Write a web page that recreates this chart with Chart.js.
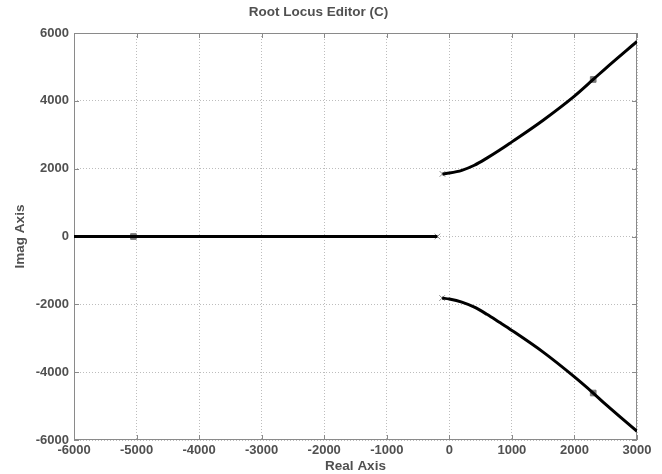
<!DOCTYPE html>
<html>
<head>
<meta charset="utf-8">
<script src="https://cdn.jsdelivr.net/npm/chart.js@4.4.1/dist/chart.umd.min.js"></script>
<style>
  html, body { margin: 0; padding: 0; background: #fff; }
  #wrap { width: 662px; height: 474px; }
</style>
</head>
<body>
<div id="wrap"><canvas id="locus"></canvas></div>
<script>
// axis ticks
const xTicks = [-6000, -5000, -4000, -3000, -2000, -1000, 0, 1000, 2000, 3000];
const yTicks = [-6000, -4000, -2000, 0, 2000, 4000, 6000];

// real-axis branch
const realX = [-6000, -190];
const realY = [0, 0];

// complex branches
const upperX = [-110, 0, 200, 400, 600, 800, 1000, 1500, 2000, 2300, 2500, 3000];
const upperY = [1845, 1870, 1950, 2100, 2310, 2540, 2790, 3430, 4140, 4630, 4960, 5750];
const lowerX = [-115, 0, 200, 400, 600, 800, 1000, 1500, 2000, 2300, 2500, 3000];
const lowerY = [-1815, -1845, -1935, -2085, -2295, -2530, -2770, -3410, -4140, -4615, -4950, -5745];

// open-loop poles (x) and closed-loop poles (squares)
const poleX = [-190, -110, -115];
const poleY = [0, 1845, -1815];
const clX = [-5050, 2300, 2300];
const clY = [0, 4630, -4615];

const pts = (xs, ys) => xs.map((x, i) => ({ x: x, y: ys[i] }));

const textColor = '#505050';
const fontFamily = "Arial, 'Liberation Sans', sans-serif";
const tickFont = { family: fontFamily, size: 13, weight: 'bold' };
const labelFont = { family: fontFamily, size: 13.5, weight: 'bold' };

// box round the plot with ticks pointing inward
const frame = {
    id: 'frame',
    beforeDatasetsDraw(chart) {
        const { ctx, chartArea: a, scales: { x, y } } = chart;
        ctx.save();
        ctx.strokeStyle = '#8a8a8a';
        ctx.lineWidth = 1;
        ctx.strokeRect(a.left + 0.5, a.top + 0.5, a.right - a.left - 1, a.bottom - a.top - 1);
        ctx.beginPath();
        xTicks.forEach(v => {
            const px = Math.round(x.getPixelForValue(v)) + 0.5;
            ctx.moveTo(px, a.bottom); ctx.lineTo(px, a.bottom - 5);
            ctx.moveTo(px, a.top); ctx.lineTo(px, a.top + 5);
        });
        yTicks.forEach(v => {
            const py = Math.round(y.getPixelForValue(v)) + 0.5;
            ctx.moveTo(a.left, py); ctx.lineTo(a.left + 5, py);
            ctx.moveTo(a.right, py); ctx.lineTo(a.right - 5, py);
        });
        ctx.stroke();
        ctx.restore();
    }
};

new Chart(document.getElementById('locus'), {
    type: 'scatter',
    data: {
        datasets: [
            { data: pts(realX, realY), showLine: true, borderColor: '#000', borderWidth: 3, pointRadius: 0 },
            { data: pts(upperX, upperY), showLine: true, borderColor: '#000', borderWidth: 3, pointRadius: 0, cubicInterpolationMode: 'monotone' },
            { data: pts(lowerX, lowerY), showLine: true, borderColor: '#000', borderWidth: 3, pointRadius: 0, cubicInterpolationMode: 'monotone' },
            { data: pts(poleX, poleY), pointStyle: 'crossRot', pointRadius: 4, borderColor: '#8a8a8a', borderWidth: 1 },
            { data: pts(clX, clY), pointStyle: 'rect', pointRadius: 4, backgroundColor: '#7a7a7a', borderColor: '#7a7a7a', borderWidth: 1 }
        ]
    },
    options: {
        responsive: true,
        maintainAspectRatio: false,
        animation: false,
        layout: { padding: { left: 0, right: 25, top: 0, bottom: 0 } },
        plugins: {
            legend: { display: false },
            tooltip: { enabled: false },
            title: {
                display: true,
                text: 'Root Locus Editor (C)',
                color: textColor,
                font: labelFont,
                padding: { top: 4, bottom: 12.8 }
            }
        },
        scales: {
            x: {
                type: 'linear',
                min: -6000,
                max: 3000,
                afterBuildTicks: s => { s.ticks = xTicks.map(v => ({ value: v })); },
                afterFit: s => { s.height = 34; },
                ticks: { color: textColor, padding: 3, maxRotation: 0, autoSkip: false,
                         callback: v => String(v), font: tickFont },
                grid: { color: '#bdbdbd', drawTicks: false },
                border: { display: false, dash: [1, 2] },
                title: { display: true, text: 'Real Axis', color: textColor, padding: { top: 0, bottom: 0 },
                         font: labelFont }
            },
            y: {
                type: 'linear',
                min: -6000,
                max: 6000,
                afterBuildTicks: s => { s.ticks = yTicks.map(v => ({ value: v })); },
                afterFit: s => { s.width = 74; },
                ticks: { color: textColor, padding: 5, autoSkip: false,
                         callback: v => String(v), font: tickFont },
                grid: { color: '#bdbdbd', drawTicks: false },
                border: { display: false, dash: [1, 2] },
                title: { display: true, text: 'Imag Axis', color: textColor, padding: { top: 12, bottom: 0 },
                         font: labelFont }
            }
        }
    },
    plugins: [frame]
});
</script>
</body>
</html>
